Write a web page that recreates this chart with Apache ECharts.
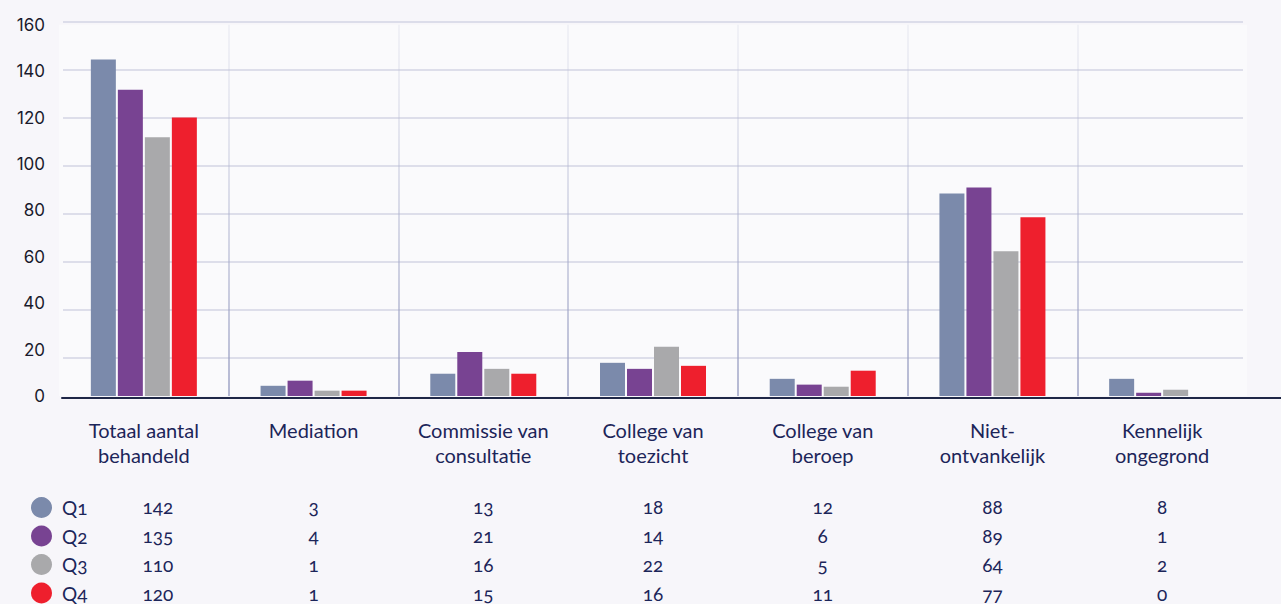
<!DOCTYPE html>
<html><head><meta charset="utf-8">
<script src="https://cdn.jsdelivr.net/npm/echarts@6/dist/echarts.min.js"></script>
<style>
html,body{margin:0;padding:0;background:#f7f6fa;}
#c{width:1281px;height:604px;}
#c text{font-variant-numeric:oldstyle-nums !important;font-feature-settings:"onum" 1 !important;}
</style>
</head><body><div id="c"></div>
<script>
// ---- data ----
const categories = ['Totaal aantal\nbehandeld','Mediation','Commissie van\nconsultatie','College van\ntoezicht','College van\nberoep','Niet-\nontvankelijk','Kennelijk\nongegrond'];
const seriesNames = ['Q1','Q2','Q3','Q4'];
// bar heights as drawn in the chart
const barsQ1 = [145, 4.4, 9.6, 14.3, 7.4, 87.3, 7.4];
const barsQ2 = [132, 6.6, 19, 11.7, 4.9, 89.9, 1.4];
const barsQ3 = [111.5, 2.3, 11.7, 21.2, 4.0, 62.4, 2.7];
const barsQ4 = [120, 2.3, 9.6, 13, 10.9, 77, 0];
// values printed in the table below the chart
const tableQ1 = [142, 3, 13, 18, 12, 88, 8];
const tableQ2 = [135, 4, 21, 14, 6, 89, 1];
const tableQ3 = [110, 1, 16, 22, 5, 64, 2];
const tableQ4 = [120, 1, 15, 16, 11, 77, 0];
const yMin = 0, yMax = 160, yInterval = 20;

// ---- styling ----
const colors = ['#7b8aab', '#784392', '#a9a9ab', '#ee1f2d'];
const navy = '#1c2559';
const txtFont = 'Lato';
const bars = [barsQ1, barsQ2, barsQ3, barsQ4];
const tables = [tableQ1, tableQ2, tableQ3, tableQ4];

const sepGrad = new echarts.graphic.LinearGradient(0, 0, 0, 397, [
  {offset: 0, color: 'rgba(200,203,222,0.2)'},
  {offset: 1, color: 'rgba(145,151,190,0.9)'}
], true);

const gridL = 59, gridR = 34;
const rowOffsets = [99.5, 128.5, 157.5, 186];

const xAxes = [{
  type: 'category', gridIndex: 1, data: categories,
  axisLine: {show: false}, axisTick: {show: false},
  axisLabel: {interval: 0, margin: 21, fontFamily: txtFont, fontSize: 20, lineHeight: 25, color: navy},
  splitLine: {show: true, interval: 0, lineStyle: {width: 1.5, color: ['transparent', sepGrad, sepGrad, sepGrad, sepGrad, sepGrad, sepGrad, 'transparent']}}
}];
tables.forEach((row, i) => {
  xAxes.push({
    type: 'category', gridIndex: 1, position: 'bottom', offset: rowOffsets[i],
    data: row.map(String),
    axisLine: {show: false}, axisTick: {show: false}, splitLine: {show: false},
    axisLabel: {interval: 0, margin: 0, fontFamily: txtFont, fontSize: 19, lineHeight: 22, color: navy,
      formatter: (v, idx) => idx === 0 ? '{a|' + v + '}' : v,
      rich: {a: {fontFamily: txtFont, fontSize: 19, lineHeight: 22, color: navy, padding: [0, 0, 0, 28]}}}
  });
});
xAxes.push({type: 'value', gridIndex: 0, show: false});
xAxes.push({type: 'value', gridIndex: 2, min: 0, max: 1, axisLine: {show: true, onZero: false, lineStyle: {color: '#1f2747', width: 2}}, axisTick: {show: false}, axisLabel: {show: false}, splitLine: {show: false}});

const option = {
  backgroundColor: '#f7f6fa',
  animation: false,
  color: colors,
  grid: [
    {left: 63, right: 38, top: 21.7, height: 383.6},
    {left: gridL, right: gridR, top: 24.7, height: 372.6, show: true, backgroundColor: '#fafafc', borderWidth: 0},
    {left: 62, right: 0, top: 397.3, height: 0}
  ],
  legend: {
    orient: 'vertical', left: 31, top: 497, itemWidth: 21, itemHeight: 21, itemGap: 7.5, padding: 0,
    icon: 'circle', data: seriesNames,
    textStyle: {fontFamily: txtFont, fontSize: 19, color: navy, padding: [0, 0, 0, 5]}
  },
  xAxis: xAxes,
  yAxis: [
    {type: 'value', gridIndex: 0, min: yMin, max: yMax, interval: yInterval,
      axisLine: {show: false}, axisTick: {show: false}, axisLabel: {show: false},
      splitLine: {show: true, lineStyle: {width: 1.5, color: ['transparent', '#d3d5e4', '#d3d5e4', '#d3d5e4', '#d3d5e4', '#d3d5e4', '#d3d5e4', '#d3d5e4', '#d3d5e4']}}},
    {type: 'value', gridIndex: 1, min: yMin, max: yMax, interval: yInterval,
      axisLine: {show: false}, axisTick: {show: false}, splitLine: {show: false},
      axisLabel: {margin: 14, fontFamily: 'Inter', fontSize: 17, color: '#1a1a2c'}},
    {type: 'value', gridIndex: 2, show: false}
  ],
  series: seriesNames.map((n, i) => ({
    name: n, type: 'bar', xAxisIndex: 0, yAxisIndex: 1,
    data: bars[i], barWidth: 25, barGap: '8%',
    itemStyle: {color: colors[i]}
  }))
};
const chart = echarts.init(document.getElementById('c'), null, {renderer: 'svg'});
chart.setOption(option);
</script>
</body></html>
